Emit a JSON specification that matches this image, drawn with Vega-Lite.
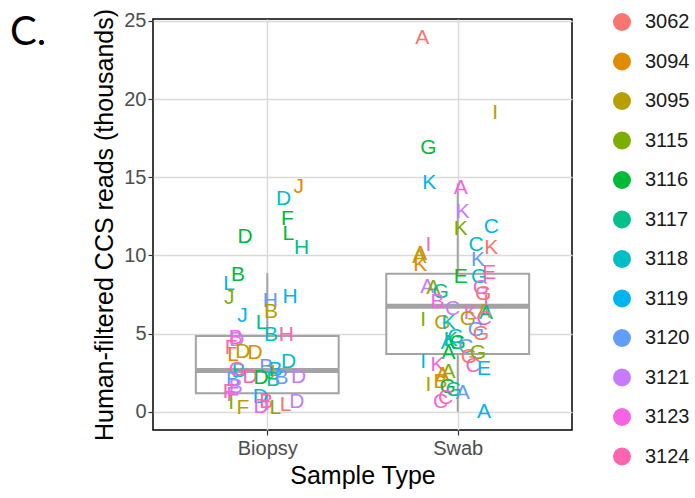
{
  "$schema": "https://vega.github.io/schema/vega-lite/v6.json",
  "width": 419,
  "height": 411,
  "autosize": "none",
  "padding": {"left": 153, "top": 19, "right": 123, "bottom": 68},
  "title": {
    "text": "C.",
    "orient": "top",
    "anchor": "start",
    "frame": "group",
    "font": "Lato",
    "fontSize": 40,
    "fontWeight": "normal",
    "color": "black",
    "baseline": "alphabetic",
    "offset": 0,
    "dx": -143,
    "dy": 77
  },
  "datasets": {
    "boxes": [
      {"type": "Biopsy", "pos": 1, "left": 0.625, "right": 1.375, "lower": 0.1, "q1": 1.18, "median": 2.63, "q3": 4.85, "upper": 8.86},
      {"type": "Swab", "pos": 2, "left": 1.625, "right": 2.375, "lower": 0.0, "q1": 3.69, "median": 6.75, "q3": 8.82, "upper": 14.6}
    ],
    "samples": [
      {"type": "Biopsy", "letter": "J", "reads": 14.38, "x": 1.165, "id": "3094"},
      {"type": "Biopsy", "letter": "D", "reads": 13.6, "x": 1.085, "id": "3118"},
      {"type": "Biopsy", "letter": "F", "reads": 12.32, "x": 1.106, "id": "3116"},
      {"type": "Biopsy", "letter": "L", "reads": 11.37, "x": 1.11, "id": "3116"},
      {"type": "Biopsy", "letter": "H", "reads": 10.47, "x": 1.18, "id": "3117"},
      {"type": "Biopsy", "letter": "D", "reads": 11.17, "x": 0.883, "id": "3116"},
      {"type": "Biopsy", "letter": "B", "reads": 8.75, "x": 0.846, "id": "3116"},
      {"type": "Biopsy", "letter": "L", "reads": 8.2, "x": 0.8, "id": "3119"},
      {"type": "Biopsy", "letter": "J", "reads": 7.3, "x": 0.8, "id": "3115"},
      {"type": "Biopsy", "letter": "H", "reads": 7.33, "x": 1.12, "id": "3119"},
      {"type": "Biopsy", "letter": "H", "reads": 7.1, "x": 1.016, "id": "3120"},
      {"type": "Biopsy", "letter": "J", "reads": 6.1, "x": 0.87, "id": "3119"},
      {"type": "Biopsy", "letter": "B", "reads": 6.35, "x": 1.02, "id": "3095"},
      {"type": "Biopsy", "letter": "L", "reads": 5.67, "x": 0.97, "id": "3117"},
      {"type": "Biopsy", "letter": "B", "reads": 4.9, "x": 1.02, "id": "3118"},
      {"type": "Biopsy", "letter": "H", "reads": 4.9, "x": 1.1, "id": "3124"},
      {"type": "Biopsy", "letter": "D", "reads": 4.6, "x": 0.84, "id": "3121"},
      {"type": "Biopsy", "letter": "B", "reads": 4.7, "x": 0.835, "id": "3123"},
      {"type": "Biopsy", "letter": "F", "reads": 4.1, "x": 0.81, "id": "3124"},
      {"type": "Biopsy", "letter": "L", "reads": 3.63, "x": 0.82, "id": "3094"},
      {"type": "Biopsy", "letter": "D", "reads": 3.8, "x": 0.872, "id": "3095"},
      {"type": "Biopsy", "letter": "D", "reads": 3.75, "x": 0.936, "id": "3094"},
      {"type": "Biopsy", "letter": "B", "reads": 2.6, "x": 0.85, "id": "3118"},
      {"type": "Biopsy", "letter": "G", "reads": 2.65, "x": 0.84, "id": "3124"},
      {"type": "Biopsy", "letter": "D", "reads": 2.2, "x": 0.91, "id": "3124"},
      {"type": "Biopsy", "letter": "B", "reads": 2.85, "x": 0.995, "id": "3120"},
      {"type": "Biopsy", "letter": "B", "reads": 2.65, "x": 1.043, "id": "3119"},
      {"type": "Biopsy", "letter": "J", "reads": 2.47, "x": 1.016, "id": "3095"},
      {"type": "Biopsy", "letter": "D", "reads": 3.17, "x": 1.112, "id": "3118"},
      {"type": "Biopsy", "letter": "D", "reads": 2.2, "x": 1.165, "id": "3121"},
      {"type": "Biopsy", "letter": "D", "reads": 2.15, "x": 0.968, "id": "3116"},
      {"type": "Biopsy", "letter": "B", "reads": 2.0, "x": 1.032, "id": "3117"},
      {"type": "Biopsy", "letter": "B", "reads": 2.15, "x": 1.075, "id": "3120"},
      {"type": "Biopsy", "letter": "B", "reads": 2.0, "x": 0.82, "id": "3120"},
      {"type": "Biopsy", "letter": "B", "reads": 1.57, "x": 0.835, "id": "3121"},
      {"type": "Biopsy", "letter": "F", "reads": 1.25, "x": 0.8, "id": "3124"},
      {"type": "Biopsy", "letter": "F", "reads": 1.07, "x": 0.82, "id": "3123"},
      {"type": "Biopsy", "letter": "F", "reads": 0.23, "x": 0.872, "id": "3095"},
      {"type": "Biopsy", "letter": "I", "reads": 0.55, "x": 0.81, "id": "3115"},
      {"type": "Biopsy", "letter": "D", "reads": 0.93, "x": 0.963, "id": "3119"},
      {"type": "Biopsy", "letter": "D", "reads": 0.3, "x": 0.968, "id": "3123"},
      {"type": "Biopsy", "letter": "B", "reads": 0.6, "x": 0.995, "id": "3124"},
      {"type": "Biopsy", "letter": "L", "reads": 0.25, "x": 1.043, "id": "3115"},
      {"type": "Biopsy", "letter": "L", "reads": 0.4, "x": 1.096, "id": "3062"},
      {"type": "Biopsy", "letter": "D", "reads": 0.6, "x": 1.155, "id": "3121"},
      {"type": "Swab", "letter": "A", "reads": 23.9, "x": 1.814, "id": "3062"},
      {"type": "Swab", "letter": "I", "reads": 19.1, "x": 2.197, "id": "3095"},
      {"type": "Swab", "letter": "G", "reads": 16.9, "x": 1.846, "id": "3116"},
      {"type": "Swab", "letter": "K", "reads": 14.6, "x": 1.851, "id": "3119"},
      {"type": "Swab", "letter": "A", "reads": 14.3, "x": 2.016, "id": "3123"},
      {"type": "Swab", "letter": "K", "reads": 12.8, "x": 2.027, "id": "3121"},
      {"type": "Swab", "letter": "K", "reads": 11.7, "x": 2.016, "id": "3115"},
      {"type": "Swab", "letter": "C", "reads": 11.8, "x": 2.176, "id": "3119"},
      {"type": "Swab", "letter": "I", "reads": 10.65, "x": 1.846, "id": "3123"},
      {"type": "Swab", "letter": "C", "reads": 10.65, "x": 2.096, "id": "3118"},
      {"type": "Swab", "letter": "K", "reads": 10.5, "x": 2.176, "id": "3062"},
      {"type": "Swab", "letter": "A", "reads": 10.1, "x": 1.803, "id": "3094"},
      {"type": "Swab", "letter": "A", "reads": 9.9, "x": 1.798, "id": "3095"},
      {"type": "Swab", "letter": "K", "reads": 9.4, "x": 1.803, "id": "3094"},
      {"type": "Swab", "letter": "K", "reads": 9.7, "x": 2.106, "id": "3120"},
      {"type": "Swab", "letter": "E", "reads": 8.6, "x": 2.016, "id": "3116"},
      {"type": "Swab", "letter": "G", "reads": 8.6, "x": 2.112, "id": "3118"},
      {"type": "Swab", "letter": "E", "reads": 8.85, "x": 2.165, "id": "3124"},
      {"type": "Swab", "letter": "A", "reads": 8.0, "x": 1.84, "id": "3121"},
      {"type": "Swab", "letter": "A", "reads": 7.9, "x": 1.872, "id": "3115"},
      {"type": "Swab", "letter": "G", "reads": 7.65, "x": 1.91, "id": "3117"},
      {"type": "Swab", "letter": "G", "reads": 7.9, "x": 2.122, "id": "3123"},
      {"type": "Swab", "letter": "G", "reads": 7.5, "x": 2.133, "id": "3062"},
      {"type": "Swab", "letter": "I", "reads": 6.95, "x": 2.149, "id": "3124"},
      {"type": "Swab", "letter": "B", "reads": 7.0, "x": 1.894, "id": "3123"},
      {"type": "Swab", "letter": "C", "reads": 6.6, "x": 1.973, "id": "3121"},
      {"type": "Swab", "letter": "K", "reads": 6.3, "x": 2.069, "id": "3123"},
      {"type": "Swab", "letter": "A", "reads": 6.4, "x": 2.138, "id": "3095"},
      {"type": "Swab", "letter": "A", "reads": 6.3, "x": 2.149, "id": "3117"},
      {"type": "Swab", "letter": "I", "reads": 5.87, "x": 1.819, "id": "3115"},
      {"type": "Swab", "letter": "G", "reads": 5.7, "x": 1.92, "id": "3095"},
      {"type": "Swab", "letter": "K", "reads": 5.7, "x": 1.952, "id": "3118"},
      {"type": "Swab", "letter": "G", "reads": 5.9, "x": 2.053, "id": "3095"},
      {"type": "Swab", "letter": "C", "reads": 5.9, "x": 2.138, "id": "3124"},
      {"type": "Swab", "letter": "G", "reads": 5.2, "x": 2.096, "id": "3120"},
      {"type": "Swab", "letter": "G", "reads": 5.0, "x": 2.122, "id": "3062"},
      {"type": "Swab", "letter": "K", "reads": 4.6, "x": 1.963, "id": "3117"},
      {"type": "Swab", "letter": "G", "reads": 4.75, "x": 1.989, "id": "3118"},
      {"type": "Swab", "letter": "A", "reads": 4.4, "x": 1.947, "id": "3118"},
      {"type": "Swab", "letter": "G", "reads": 4.4, "x": 2.0, "id": "3116"},
      {"type": "Swab", "letter": "C", "reads": 4.15, "x": 2.043, "id": "3120"},
      {"type": "Swab", "letter": "A", "reads": 3.75, "x": 1.952, "id": "3116"},
      {"type": "Swab", "letter": "G", "reads": 3.5, "x": 2.059, "id": "3062"},
      {"type": "Swab", "letter": "G", "reads": 3.75, "x": 2.106, "id": "3115"},
      {"type": "Swab", "letter": "I", "reads": 3.2, "x": 1.819, "id": "3119"},
      {"type": "Swab", "letter": "K", "reads": 3.0, "x": 1.894, "id": "3123"},
      {"type": "Swab", "letter": "C", "reads": 2.9, "x": 2.08, "id": "3124"},
      {"type": "Swab", "letter": "E", "reads": 2.7, "x": 2.138, "id": "3119"},
      {"type": "Swab", "letter": "A", "reads": 2.55, "x": 1.952, "id": "3115"},
      {"type": "Swab", "letter": "A", "reads": 2.35, "x": 1.92, "id": "3094"},
      {"type": "Swab", "letter": "I", "reads": 1.7, "x": 1.846, "id": "3095"},
      {"type": "Swab", "letter": "B", "reads": 1.9, "x": 1.91, "id": "3094"},
      {"type": "Swab", "letter": "G", "reads": 1.6, "x": 1.947, "id": "3116"},
      {"type": "Swab", "letter": "G", "reads": 1.4, "x": 1.979, "id": "3117"},
      {"type": "Swab", "letter": "A", "reads": 1.2, "x": 2.027, "id": "3120"},
      {"type": "Swab", "letter": "C", "reads": 0.6, "x": 1.91, "id": "3123"},
      {"type": "Swab", "letter": "C", "reads": 0.9, "x": 1.936, "id": "3124"},
      {"type": "Swab", "letter": "A", "reads": 0.0, "x": 2.138, "id": "3119"}
    ]
  },
  "layer": [
    {
      "data": {"name": "boxes"},
      "mark": {"type": "rule", "color": "#A3A3A3", "strokeWidth": 2},
      "encoding": {
        "x": {"field": "pos", "type": "quantitative", "scale": {"domain": [0.4, 2.6], "nice": false, "zero": false},
          "axis": {"values": [1, 2], "labelExpr": "datum.value == 1 ? 'Biopsy' : 'Swab'", "title": "Sample Type", "titlePadding": 5, "labelPadding": 3}},
        "y": {"field": "lower", "type": "quantitative", "scale": {"domain": [-1.17, 25.12], "nice": false, "zero": false},
          "axis": {"values": [0, 5, 10, 15, 20, 25], "title": "Human-filtered CCS reads (thousands)", "titlePadding": 6, "labelPadding": 2}},
        "y2": {"field": "upper"}
      }
    },
    {
      "data": {"name": "boxes"},
      "mark": {"type": "rect", "fill": "white", "stroke": "#A3A3A3", "strokeWidth": 2},
      "encoding": {
        "x": {"field": "left", "type": "quantitative"},
        "x2": {"field": "right"},
        "y": {"field": "q1", "type": "quantitative"},
        "y2": {"field": "q3"}
      }
    },
    {
      "data": {"name": "boxes"},
      "mark": {"type": "rule", "color": "#A3A3A3", "strokeWidth": 5},
      "encoding": {
        "x": {"field": "left", "type": "quantitative"},
        "x2": {"field": "right"},
        "y": {"field": "median", "type": "quantitative"}
      }
    },
    {
      "data": {"name": "samples"},
      "mark": {"type": "text", "font": "Liberation Sans", "fontSize": 21, "baseline": "middle", "align": "center"},
      "encoding": {
        "x": {"field": "x", "type": "quantitative"},
        "y": {"field": "reads", "type": "quantitative"},
        "text": {"field": "letter"},
        "color": {
          "field": "id", "type": "nominal",
          "scale": {
            "domain": ["3062", "3094", "3095", "3115", "3116", "3117", "3118", "3119", "3120", "3121", "3123", "3124"],
            "range": ["#F8766D", "#DE8C00", "#B79F00", "#7CAE00", "#00BA38", "#00C08B", "#00BFC4", "#00B4F0", "#619CFF", "#C77CFF", "#F564E3", "#FF64B0"]
          },
          "legend": {
            "title": null,
            "orient": "none",
            "legendX": 459,
            "legendY": -7,
            "symbolType": "circle",
            "symbolSize": 324,
            "symbolStrokeWidth": 0,
            "labelFont": "Liberation Sans",
            "labelFontSize": 20,
            "labelColor": "#1A1A1A",
            "labelOffset": 13,
            "rowPadding": 19.5
          }
        }
      }
    }
  ],
  "config": {
    "view": {"stroke": "black", "strokeWidth": 1.5},
    "axis": {
      "grid": true,
      "gridColor": "#DADADA",
      "gridWidth": 1.5,
      "domain": false,
      "ticks": true,
      "tickColor": "#333333",
      "tickSize": 5,
      "tickWidth": 1.2,
      "labelFont": "Liberation Sans",
      "labelFontSize": 20,
      "labelColor": "#4D4D4D",
      "titleFont": "Liberation Sans",
      "titleFontSize": 25,
      "titleFontWeight": "normal",
      "titleColor": "black"
    }
  }
}
